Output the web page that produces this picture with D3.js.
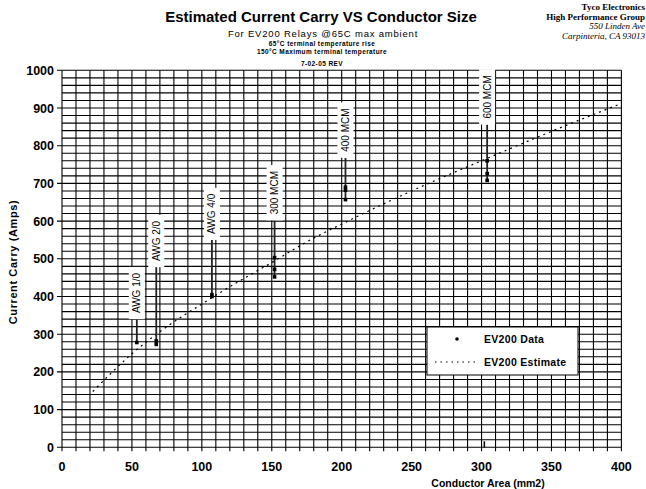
<!DOCTYPE html>
<html>
<head>
<meta charset="utf-8">
<script src="https://cdn.jsdelivr.net/npm/d3@7"></script>
<style>
body { margin: 0; background: #fff; }
text { font-family: Arial, "Liberation Sans", sans-serif; fill: #000; }
</style>
</head>
<body>
<script>
// conductor sizes shown as callouts
var sizeNames = ["AWG 1/0", "AWG 2/0", "AWG 4/0", "300 MCM", "400 MCM", "600 MCM"];
var sizeAreas = [53.5, 67.4, 107.2, 152, 202.7, 304];

// EV200 measured data (area mm2, amps)
var dataAreas = [53.5, 67.4, 67.4, 107.2, 107.2, 152, 152, 152, 202.7, 202.7, 202.7, 304, 304, 304];
var dataAmps  = [278, 282, 273, 405, 400, 503, 472, 452, 690, 682, 657, 760, 726, 708];

// EV200 estimate curve
var estAreas = [22, 50, 75, 100, 125, 150, 175, 200, 250, 300, 350, 400];
var estAmps  = [148, 248, 320, 380, 437, 490, 545, 592, 680, 760, 838, 912];

var xTickLabels = [0, 50, 100, 150, 200, 250, 300, 350, 400];
var yTickLabels = [0, 100, 200, 300, 400, 500, 600, 700, 800, 900, 1000];

var svg = d3.select("body").append("svg")
    .attr("width", 646)
    .attr("height", 489);

var x = d3.scaleLinear().domain([0, 400]).range([62, 621.4]);
var y = d3.scaleLinear().domain([0, 1000]).range([447.3, 70.3]);

// titles
svg.append("text").attr("x", 321).attr("y", 22)
    .attr("text-anchor", "middle")
    .style("font-size", "15px").style("font-weight", "bold")
    .text("Estimated Current Carry VS Conductor Size");
svg.append("text").attr("x", 323).attr("y", 37)
    .attr("text-anchor", "middle")
    .style("font-size", "9.5px").style("letter-spacing", "0.8px")
    .text("For EV200 Relays @65C max ambient");
var small = [["65\u00b0C terminal temperature rise", 46],
             ["150\u00b0C Maximum terminal temperature", 54],
             ["7-02-05 REV", 66]];
small.forEach(function(s) {
    svg.append("text").attr("x", 322).attr("y", s[1])
        .attr("text-anchor", "middle")
        .style("font-size", "6.5px").style("font-weight", "bold")
        .style("letter-spacing", "0.4px")
        .text(s[0]);
});

// company block
var company = [["Tyco Electronics", "bold", "normal", 10],
               ["High Performance Group", "bold", "normal", 20],
               ["550 Linden Ave", "normal", "italic", 29],
               ["Carpinteria, CA 93013", "normal", "italic", 39]];
company.forEach(function(c) {
    svg.append("text").attr("x", 645).attr("y", c[3])
        .attr("text-anchor", "end")
        .style("font-family", "'Liberation Serif', 'DejaVu Serif', serif")
        .style("font-size", "9px")
        .style("font-weight", c[1]).style("font-style", c[2])
        .text(c[0]);
});

// grid
var g = svg.append("g");
g.selectAll(".vgrid")
    .data(d3.range(0, 401, 10))
    .enter().append("line")
    .attr("x1", function(d) { return x(d); })
    .attr("x2", function(d) { return x(d); })
    .attr("y1", y(1000))
    .attr("y2", y(0) + 4)
    .attr("stroke", "#000").attr("stroke-width", 1.1);
g.selectAll(".hgrid")
    .data(d3.range(0, 1001, 20))
    .enter().append("line")
    .attr("x1", function(d) { return x(0) - (d % 100 == 0 ? 5 : 0); })
    .attr("x2", x(400))
    .attr("y1", function(d) { return y(d); })
    .attr("y2", function(d) { return y(d); })
    .attr("stroke", "#000").attr("stroke-width", 1.1);

// tick labels
svg.selectAll(".ylab")
    .data(yTickLabels)
    .enter().append("text")
    .attr("x", 54)
    .attr("y", function(d) { return y(d) + 4.5; })
    .attr("text-anchor", "end")
    .style("font-size", "12.5px").style("font-weight", "bold")
    .text(function(d) { return d; });
svg.selectAll(".xlab")
    .data(xTickLabels)
    .enter().append("text")
    .attr("x", function(d) { return x(d); })
    .attr("y", 470.5)
    .attr("text-anchor", "middle")
    .style("font-size", "12.5px").style("font-weight", "bold")
    .text(function(d) { return d; });

// axis titles
svg.append("text")
    .attr("transform", "translate(17,262) rotate(-90)")
    .attr("text-anchor", "middle")
    .style("font-size", "11px").style("font-weight", "bold")
    .style("letter-spacing", "0.6px")
    .text("Current Carry (Amps)");
svg.append("text").attr("x", 488).attr("y", 487)
    .attr("text-anchor", "middle")
    .style("font-size", "10.5px").style("font-weight", "bold")
    .text("Conductor Area (mm2)");

// estimate line
var est = estAreas.map(function(a, i) { return [a, estAmps[i]]; });
svg.append("path")
    .datum(est)
    .attr("fill", "none")
    .attr("stroke", "#000")
    .attr("stroke-width", 1.2)
    .attr("stroke-dasharray", "2,4")
    .attr("d", d3.line()
        .curve(d3.curveMonotoneX)
        .x(function(d) { return x(d[0]); })
        .y(function(d) { return y(d[1]); }));

// callouts: white label box, line down through that size's points
var calloutBase = [340, 478, 550, 602, 768, 856];
sizeNames.forEach(function(name, i) {
    var cx = x(sizeAreas[i]);
    var vals = dataAmps.filter(function(v, j) { return dataAreas[j] == sizeAreas[i]; });
    var base = y(calloutBase[i]);
    svg.append("line")
        .attr("x1", cx).attr("x2", cx)
        .attr("y1", base).attr("y2", y(d3.min(vals)))
        .attr("stroke", "#222").attr("stroke-width", 1.8);
    var t = svg.append("text")
        .attr("transform", "translate(" + (cx + 3.5) + "," + (base - 6) + ") rotate(-90)")
        .style("font-size", "10px")
        .text(name);
    var len = t.node().getComputedTextLength();
    svg.insert("rect", "text:last-of-type")
        .attr("x", cx - 8).attr("y", base - len - 12)
        .attr("width", 16).attr("height", len + 12)
        .attr("fill", "#fff");
});

// data points
svg.selectAll(".pt")
    .data(dataAreas)
    .enter().append("rect")
    .attr("x", function(d) { return x(d) - 1.8; })
    .attr("y", function(d, i) { return y(dataAmps[i]) - 1.8; })
    .attr("width", 3.6).attr("height", 3.6)
    .attr("fill", "#000");
svg.append("line")
    .attr("x1", x(302)).attr("x2", x(302))
    .attr("y1", y(0)).attr("y2", y(0) - 6)
    .attr("stroke", "#000").attr("stroke-width", 1.5);

// legend
var lg = svg.append("g").attr("transform", "translate(427,327)");
lg.append("rect").attr("width", 151).attr("height", 48)
    .attr("fill", "#fff").attr("stroke", "#000").attr("stroke-width", 1);
lg.append("circle").attr("cx", 30).attr("cy", 12).attr("r", 1.8).attr("fill", "#000");
lg.append("text").attr("x", 57).attr("y", 16)
    .style("font-size", "10.5px").style("font-weight", "bold")
    .style("letter-spacing", "0.3px")
    .text("EV200 Data");
lg.append("line").attr("x1", 8).attr("x2", 52).attr("y1", 35).attr("y2", 35)
    .attr("stroke", "#000").attr("stroke-width", 1.2).attr("stroke-dasharray", "1.5,4");
lg.append("text").attr("x", 57).attr("y", 39)
    .style("font-size", "10.5px").style("font-weight", "bold")
    .style("letter-spacing", "0.3px")
    .text("EV200 Estimate");
</script>
</body>
</html>
